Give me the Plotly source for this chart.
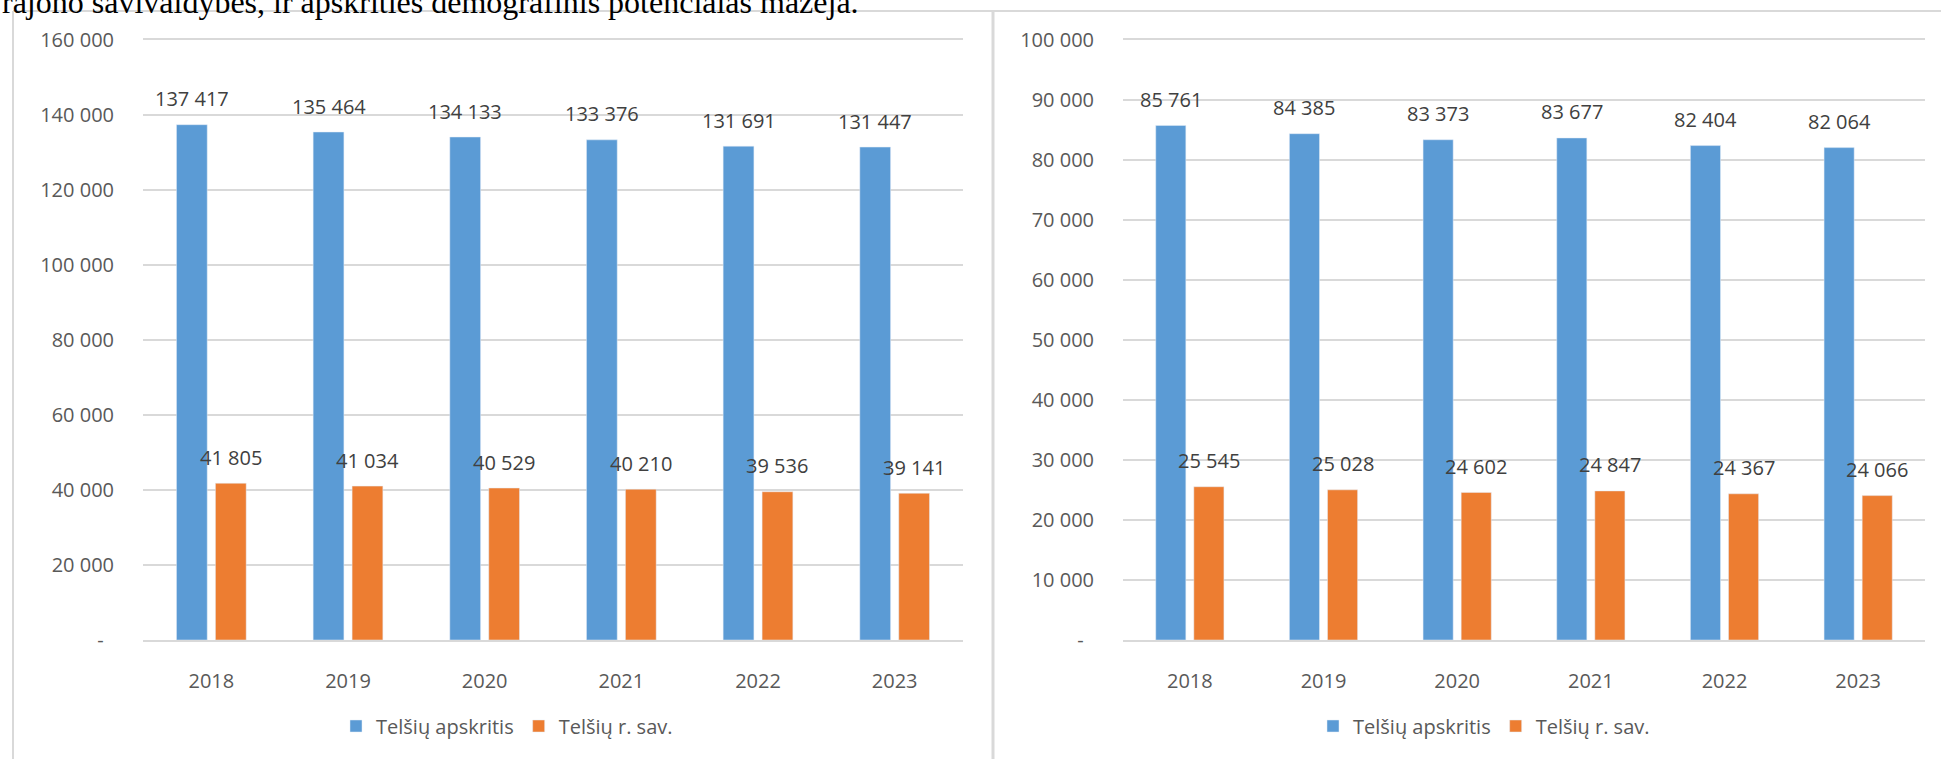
import plotly.graph_objects as go

# ---- data ----
years = ["2018", "2019", "2020", "2021", "2022", "2023"]
series_names = ["Telšių apskritis", "Telšių r. sav."]
left_apskritis = [137417, 135464, 134133, 133376, 131691, 131447]
left_rsav = [41805, 41034, 40529, 40210, 39536, 39141]
right_apskritis = [85761, 84385, 83373, 83677, 82404, 82064]
right_rsav = [25545, 25028, 24602, 24847, 24367, 24066]
left_ticks = [0, 20000, 40000, 60000, 80000, 100000, 120000, 140000, 160000]
right_ticks = [0, 10000, 20000, 30000, 40000, 50000, 60000, 70000, 80000, 90000, 100000]
top_text = "rajono savivaldybės, ir apskrities demografinis potencialas mažėja."

BLUE = "#5B9BD5"
ORANGE = "#ED7D31"
GRID = "#D9D9D9"
TICK_C = "#595959"
LABEL_C = "#404040"
FONT = "Open Sans"
W, H = 1941, 759
NB = "\u00a0"


def fmt(v):
    if v == 0:
        return "-" + NB * 2
    return f"{v:,}".replace(",", " ")


def px(xp):
    return xp / W


def py(yp):
    return (H - yp) / H


fig = go.Figure()

fig.add_trace(go.Bar(x=years, y=left_apskritis, name=series_names[0], marker_color=BLUE,
                     xaxis="x", yaxis="y", legend="legend"))
fig.add_trace(go.Bar(x=years, y=left_rsav, name=series_names[1], marker_color=ORANGE,
                     xaxis="x", yaxis="y", legend="legend"))
fig.add_trace(go.Bar(x=years, y=right_apskritis, name=series_names[0], marker_color=BLUE,
                     xaxis="x2", yaxis="y2", legend="legend2"))
fig.add_trace(go.Bar(x=years, y=right_rsav, name=series_names[1], marker_color=ORANGE,
                     xaxis="x2", yaxis="y2", legend="legend2"))

BARGAP = 0.43
BARGROUPGAP = 0.21
left_dom = [px(143), px(963)]
right_dom = [px(1123), px(1925)]
y_dom = [py(640), py(40)]

annotations = []


def add_labels(xref, yref, dom, a_vals, b_vals):
    cat_w = (dom[1] - dom[0]) * W / len(years)
    shift = cat_w * (1 - BARGAP) / 4
    for i, (a, b) in enumerate(zip(a_vals, b_vals)):
        for v, s in ((a, -shift), (b, shift)):
            annotations.append(dict(x=i, y=v, xref=xref, yref=yref, text=fmt(v),
                                    showarrow=False, xshift=s, yshift=26,
                                    yanchor="middle", xanchor="center",
                                    font=dict(family=FONT, size=20, color=LABEL_C)))


add_labels("x", "y", left_dom, left_apskritis, left_rsav)
add_labels("x2", "y2", right_dom, right_apskritis, right_rsav)

annotations.append(dict(x=0, y=py(22), xref="paper", yref="paper", text=top_text,
                        showarrow=False, xanchor="left", yanchor="bottom",
                        font=dict(family="Liberation Serif", size=32, color="#000000")))

xcommon = dict(type="category", range=[-0.5, len(years) - 0.5], showgrid=False,
               zeroline=False, showline=True, mirror=True,
               linecolor=GRID, linewidth=2, ticks="", ticklabelstandoff=22,
               automargin=False,
               tickfont=dict(family=FONT, size=20, color=TICK_C), fixedrange=True)
ycommon = dict(showgrid=True, gridcolor=GRID, gridwidth=2, zeroline=False,
               showline=False, ticks="", ticklabelstandoff=28, automargin=False,
               tickfont=dict(family=FONT, size=20, color=TICK_C))

shapes = [
    dict(type="line", xref="paper", yref="paper", x0=px(13), x1=px(13), y0=py(11), y1=py(759),
         line=dict(color=GRID, width=2)),
    dict(type="line", xref="paper", yref="paper", x0=px(13), x1=px(1941), y0=py(11), y1=py(11),
         line=dict(color=GRID, width=2)),
    dict(type="line", xref="paper", yref="paper", x0=px(993), x1=px(993), y0=py(11), y1=py(759),
         line=dict(color=GRID, width=3)),
]

fig.update_layout(
    width=W, height=H,
    margin=dict(l=0, r=0, t=0, b=0, pad=0, autoexpand=False),
    paper_bgcolor="white", plot_bgcolor="white",
    barmode="group", bargap=BARGAP, bargroupgap=BARGROUPGAP,
    font=dict(family=FONT, size=20, color=TICK_C),
    xaxis=dict(domain=left_dom, anchor="y", **xcommon),
    yaxis=dict(domain=y_dom, anchor="x", range=[0, 160000], tickvals=left_ticks,
               ticktext=[fmt(v) for v in left_ticks], **ycommon),
    xaxis2=dict(domain=right_dom, anchor="y2", **xcommon),
    yaxis2=dict(domain=y_dom, anchor="x2", range=[0, 100000], tickvals=right_ticks,
                ticktext=[fmt(v) for v in right_ticks], **ycommon),
    legend=dict(orientation="h", x=px(507), y=py(726), xanchor="center", yanchor="middle",
                font=dict(family=FONT, size=20, color=TICK_C), itemwidth=30,
                bgcolor="rgba(0,0,0,0)"),
    legend2=dict(orientation="h", x=px(1484), y=py(726), xanchor="center", yanchor="middle",
                 font=dict(family=FONT, size=20, color=TICK_C), itemwidth=30,
                 bgcolor="rgba(0,0,0,0)"),
    annotations=annotations,
    shapes=shapes,
    showlegend=True,
)

fig.write_html("out.html",
               config={"displayModeBar": False},
               post_script="document.body.style.margin='0';document.body.style.overflow='hidden';")
